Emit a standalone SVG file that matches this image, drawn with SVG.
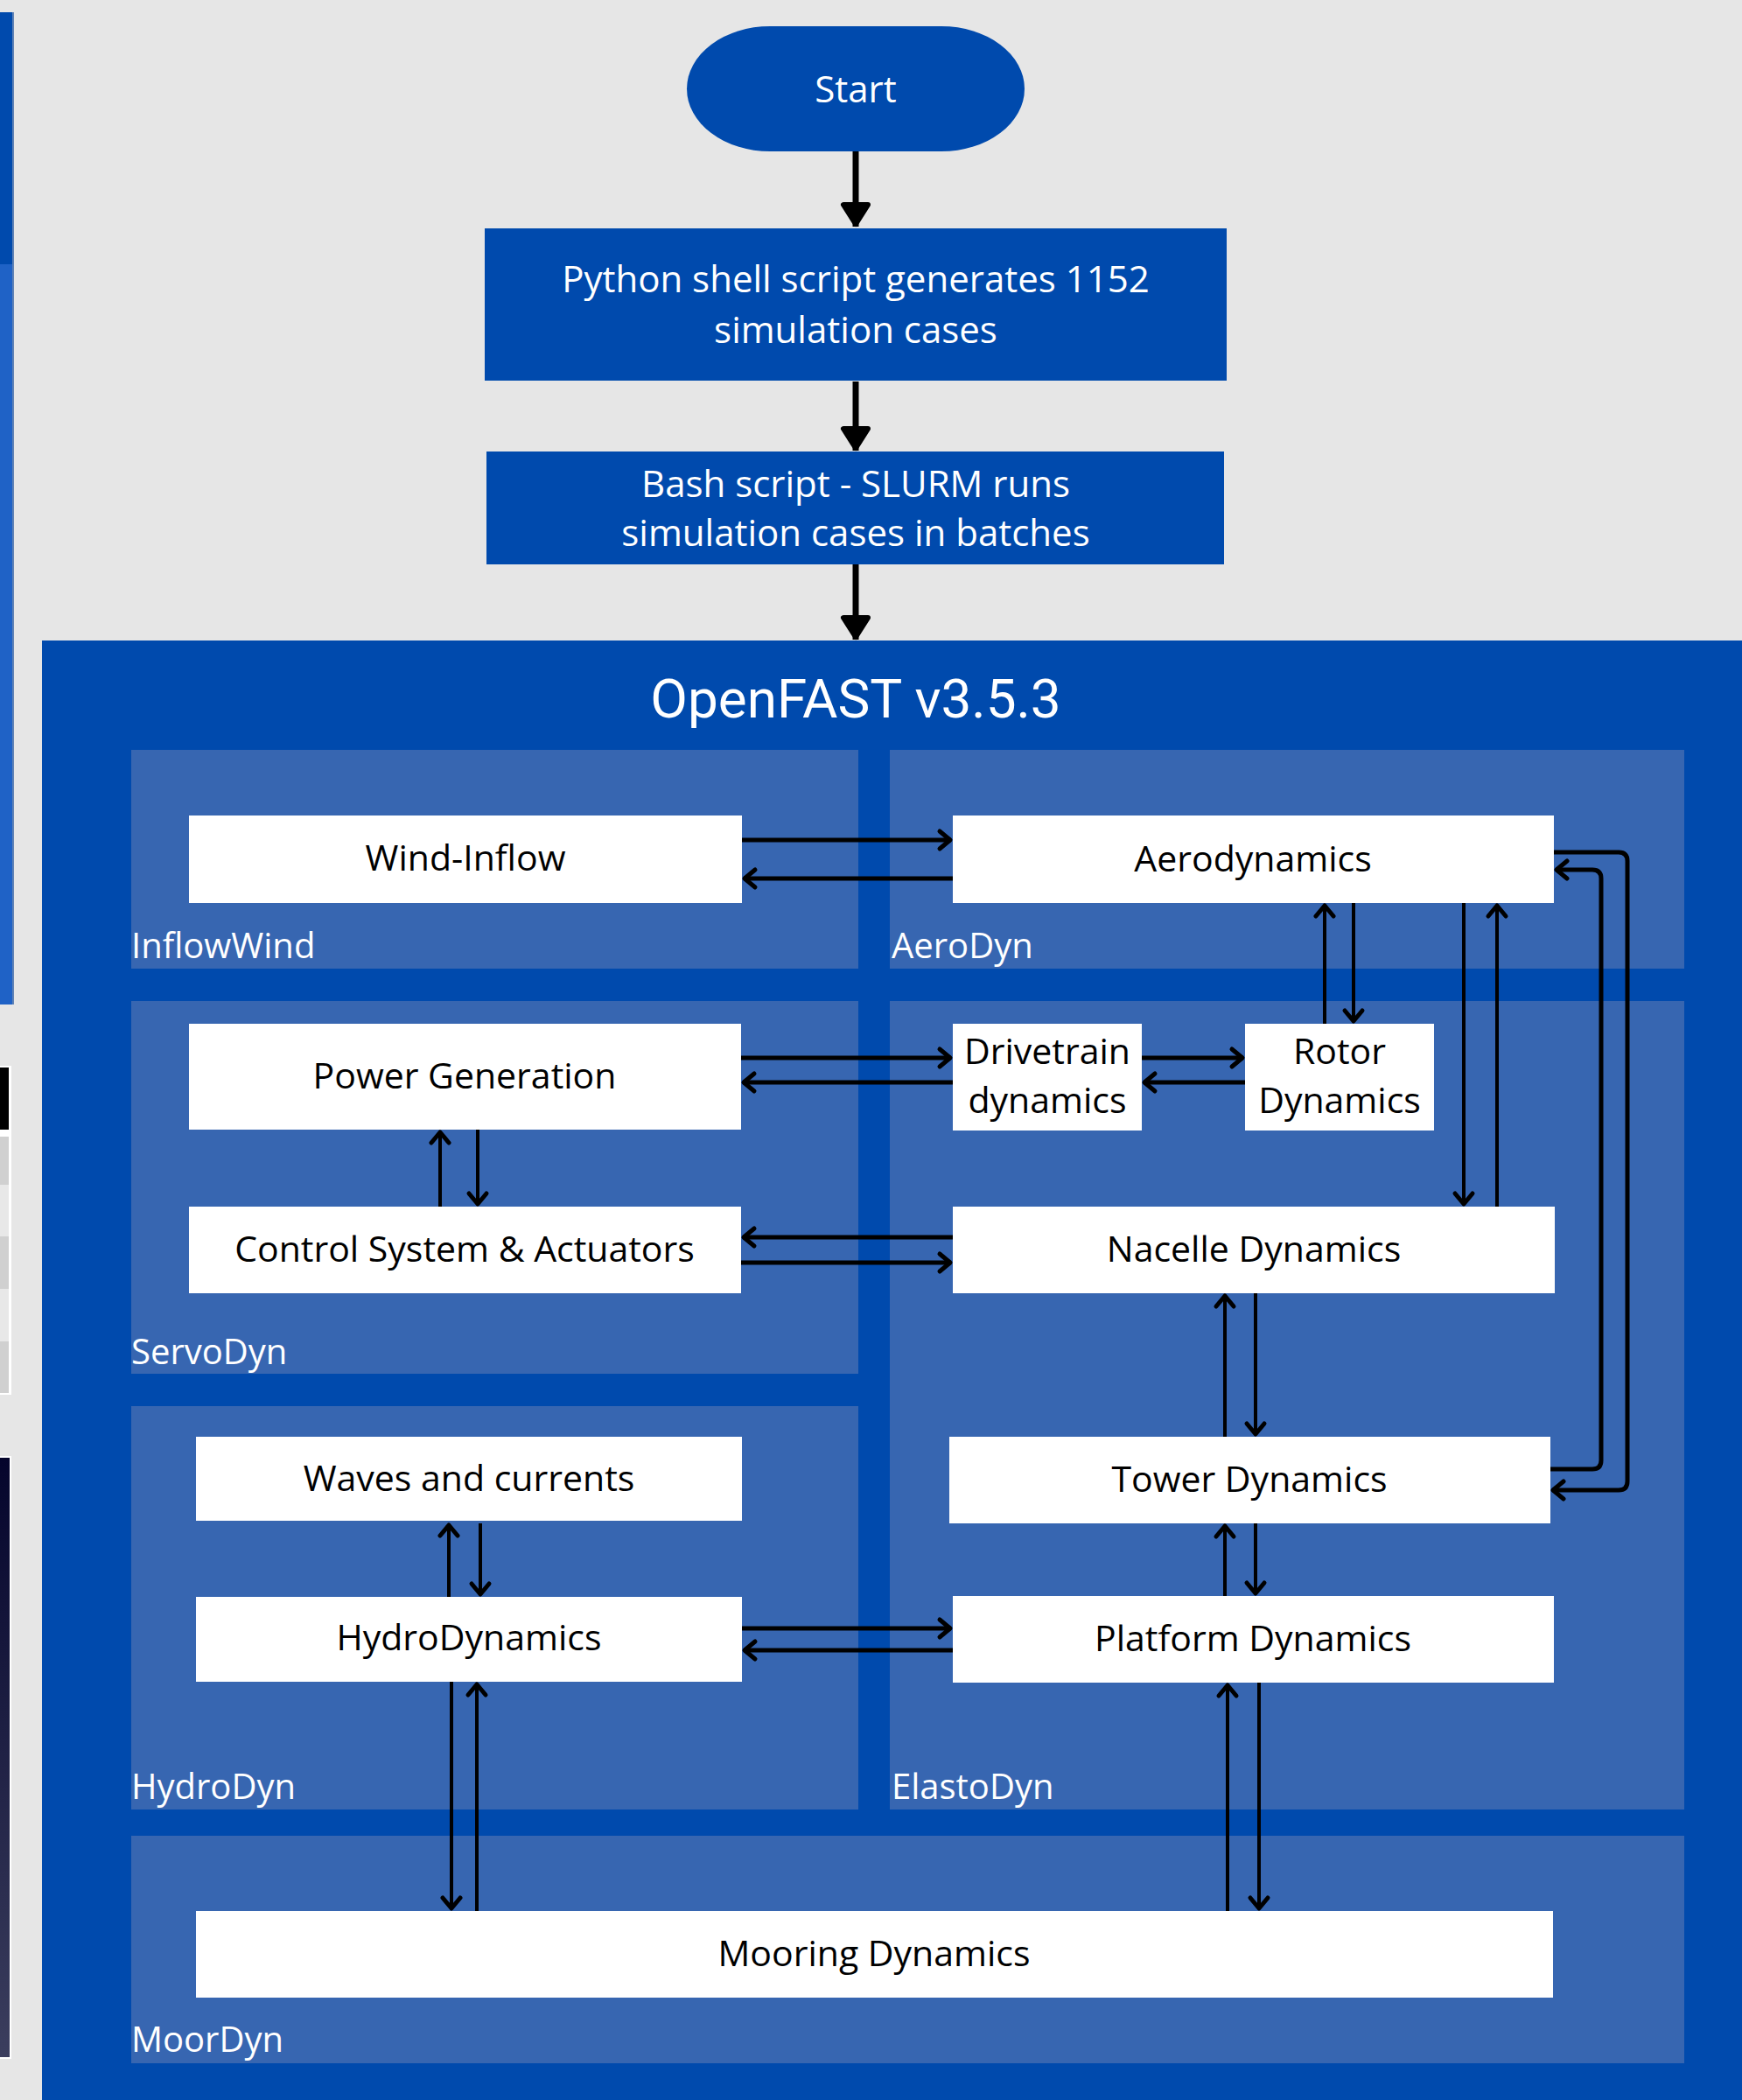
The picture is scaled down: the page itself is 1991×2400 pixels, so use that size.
<svg xmlns="http://www.w3.org/2000/svg" width="1991" height="2400" viewBox="0 0 1991 2400">
<style>
.wt{font-family:"Open Sans","Noto Sans",sans-serif;fill:#ffffff;text-anchor:middle}
.lbl{font-family:"Open Sans","Noto Sans",sans-serif;fill:#ffffff;font-size:40px}
.bt{font-family:"Open Sans","Noto Sans",sans-serif;fill:#000000;font-size:41px;text-anchor:middle}
.box{fill:#ffffff}
.sub{fill:#3766b1}
.c{stroke:#000;fill:none;stroke-linecap:butt}
.h{stroke-width:5}
.v{stroke-width:4}
</style>
<defs>
<marker id="chev" markerUnits="userSpaceOnUse" markerWidth="40" markerHeight="40" viewBox="-20 -20 40 40" refX="0" refY="0" orient="auto" overflow="visible">
<path d="M-13,-10 L-1,0 L-13,10" fill="none" stroke="#000" stroke-width="5" stroke-linecap="round" stroke-linejoin="round"/>
</marker>
<marker id="tri" markerUnits="userSpaceOnUse" markerWidth="60" markerHeight="60" viewBox="-40 -30 60 60" refX="0" refY="0" orient="auto" overflow="visible">
<path d="M-25,-14 L-3,0 L-25,14 Z" fill="#000" stroke="#000" stroke-width="6" stroke-linejoin="round"/>
</marker>
<linearGradient id="navy" x1="0" y1="0" x2="0" y2="1">
<stop offset="0" stop-color="#05052c"/>
<stop offset="1" stop-color="#3b3e5e"/>
</linearGradient>
</defs>

<rect x="0" y="0" width="1991" height="2400" fill="#e6e6e6"/>

<g id="left-strip">
<rect x="0" y="14" width="16" height="1134" fill="#5f82b5"/>
<rect x="0" y="14" width="14" height="288" fill="#004aad"/>
<rect x="0" y="302" width="14" height="846" fill="#1f62c6"/>
<rect x="0" y="1218" width="13" height="376" fill="#ffffff"/>
<rect x="0" y="1220" width="10" height="71" fill="#000000"/>
<rect x="0" y="1299" width="10" height="55" fill="#d0d0d0"/>
<rect x="0" y="1354" width="10" height="59" fill="#e8e8e8"/>
<rect x="0" y="1413" width="10" height="60" fill="#d0d0d0"/>
<rect x="0" y="1473" width="10" height="60" fill="#e8e8e8"/>
<rect x="0" y="1533" width="10" height="59" fill="#d0d0d0"/>
<rect x="0" y="1664" width="13" height="689" fill="#ffffff"/>
<rect x="0" y="1666" width="11" height="685" fill="url(#navy)"/>
</g>

<g id="openfast-panel">
<rect x="48" y="732" width="1943" height="1668" fill="#004aad"/>
<text class="wt" x="978" y="820" style="font-family:Roboto,'Open Sans',sans-serif;font-size:62px">OpenFAST v3.5.3</text>
</g>

<g id="modules">
<g id="InflowWind"><rect class="sub" x="150" y="857" width="831" height="250"/><text class="lbl" x="150" y="1095">InflowWind</text></g>
<g id="AeroDyn"><rect class="sub" x="1017" y="857" width="908" height="250"/><text class="lbl" x="1019" y="1095">AeroDyn</text></g>
<g id="ServoDyn"><rect class="sub" x="150" y="1144" width="831" height="426"/><text class="lbl" x="150" y="1559">ServoDyn</text></g>
<g id="ElastoDyn"><rect class="sub" x="1017" y="1144" width="908" height="924"/><text class="lbl" x="1019" y="2056">ElastoDyn</text></g>
<g id="HydroDyn"><rect class="sub" x="150" y="1607" width="831" height="461"/><text class="lbl" x="150" y="2056">HydroDyn</text></g>
<g id="MoorDyn"><rect class="sub" x="150" y="2098" width="1775" height="260"/><text class="lbl" x="150" y="2345">MoorDyn</text></g>
</g>

<g id="start"><rect x="785" y="30" width="386" height="143" rx="95" ry="71.5" fill="#004aad"/><text class="wt" x="978" y="117" font-size="42">Start</text></g>
<g id="python"><rect x="554" y="261" width="848" height="174" fill="#004aad"/><text class="wt" x="978" y="334" font-size="42">Python shell script generates 1152</text><text class="wt" x="978" y="392" font-size="42">simulation cases</text></g>
<g id="bash"><rect x="556" y="516" width="843" height="129" fill="#004aad"/><text class="wt" x="978" y="568" font-size="42">Bash script - SLURM runs</text><text class="wt" x="978" y="624" font-size="42">simulation cases in batches</text></g>

<g id="wind-inflow"><rect class="box" x="216" y="932" width="632" height="100"/><text class="bt" x="532" y="995">Wind-Inflow</text></g>
<g id="aerodynamics"><rect class="box" x="1089" y="932" width="687" height="100"/><text class="bt" x="1432" y="996">Aerodynamics</text></g>
<g id="power-generation"><rect class="box" x="216" y="1170" width="631" height="121"/><text class="bt" x="531" y="1244">Power Generation</text></g>
<g id="drivetrain"><rect class="box" x="1089" y="1170" width="216" height="122"/><text class="bt" x="1197" y="1216">Drivetrain</text><text class="bt" x="1197" y="1272">dynamics</text></g>
<g id="rotor"><rect class="box" x="1423" y="1170" width="216" height="122"/><text class="bt" x="1531" y="1216">Rotor</text><text class="bt" x="1531" y="1272">Dynamics</text></g>
<g id="control"><rect class="box" x="216" y="1379" width="631" height="99"/><text class="bt" x="531" y="1442">Control System &amp; Actuators</text></g>
<g id="nacelle"><rect class="box" x="1089" y="1379" width="688" height="99"/><text class="bt" x="1433" y="1442">Nacelle Dynamics</text></g>
<g id="waves"><rect class="box" x="224" y="1642" width="624" height="96"/><text class="bt" x="536" y="1704">Waves and currents</text></g>
<g id="tower"><rect class="box" x="1085" y="1642" width="687" height="99"/><text class="bt" x="1428" y="1705">Tower Dynamics</text></g>
<g id="hydrodynamics"><rect class="box" x="224" y="1825" width="624" height="97"/><text class="bt" x="536" y="1886">HydroDynamics</text></g>
<g id="platform"><rect class="box" x="1089" y="1824" width="687" height="99"/><text class="bt" x="1432" y="1887">Platform Dynamics</text></g>
<g id="mooring"><rect class="box" x="224" y="2184" width="1551" height="99"/><text class="bt" x="999" y="2247">Mooring Dynamics</text></g>

<g id="connectors">
<path class="c" stroke-width="7" d="M978,173 V259" marker-end="url(#tri)"/>
<path class="c" stroke-width="7" d="M978,436 V515" marker-end="url(#tri)"/>
<path class="c" stroke-width="7" d="M978,645 V731" marker-end="url(#tri)"/>

<path class="c h" d="M848,960 H1087" marker-end="url(#chev)"/>
<path class="c h" d="M1089,1004 H850" marker-end="url(#chev)"/>
<path class="c h" d="M847,1209 H1087" marker-end="url(#chev)"/>
<path class="c h" d="M1089,1237 H849" marker-end="url(#chev)"/>
<path class="c h" d="M1305,1209 H1421" marker-end="url(#chev)"/>
<path class="c h" d="M1423,1237 H1307" marker-end="url(#chev)"/>
<path class="c h" d="M1089,1414 H849" marker-end="url(#chev)"/>
<path class="c h" d="M847,1443 H1087" marker-end="url(#chev)"/>
<path class="c h" d="M848,1861 H1087" marker-end="url(#chev)"/>
<path class="c h" d="M1089,1886 H850" marker-end="url(#chev)"/>

<path class="c v" d="M1514,1170 V1034" marker-end="url(#chev)"/>
<path class="c v" d="M1547,1032 V1168" marker-end="url(#chev)"/>
<path class="c v" d="M1673,1032 V1377" marker-end="url(#chev)"/>
<path class="c v" d="M1711,1379 V1034" marker-end="url(#chev)"/>
<path class="c v" d="M503,1379 V1293" marker-end="url(#chev)"/>
<path class="c v" d="M546,1291 V1377" marker-end="url(#chev)"/>
<path class="c v" d="M1400,1642 V1480" marker-end="url(#chev)"/>
<path class="c v" d="M1435,1478 V1640" marker-end="url(#chev)"/>
<path class="c v" d="M1400,1824 V1743" marker-end="url(#chev)"/>
<path class="c v" d="M1435,1741 V1822" marker-end="url(#chev)"/>
<path class="c v" d="M513,1825 V1742" marker-end="url(#chev)"/>
<path class="c v" d="M549,1741 V1823" marker-end="url(#chev)"/>
<path class="c v" d="M516,1922 V2182" marker-end="url(#chev)"/>
<path class="c v" d="M545,2184 V1924" marker-end="url(#chev)"/>
<path class="c v" d="M1403,2184 V1925" marker-end="url(#chev)"/>
<path class="c v" d="M1439,1923 V2182" marker-end="url(#chev)"/>

<path class="c h" d="M1776,974 H1850 Q1860,974 1860,984 V1693 Q1860,1703 1850,1703 H1774" marker-end="url(#chev)"/>
<path class="c h" d="M1772,1679 H1820 Q1830,1679 1830,1669 V1004 Q1830,994 1820,994 H1778" marker-end="url(#chev)"/>
</g>
</svg>
